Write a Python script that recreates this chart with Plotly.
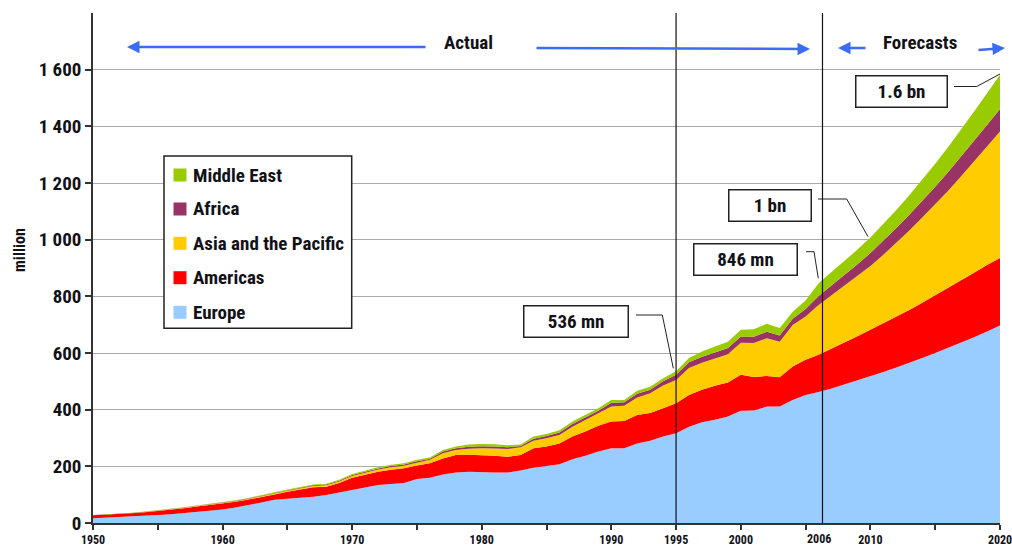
import plotly.graph_objects as go

# ---------------- data (million international tourist arrivals) ----------------
years = list(range(1950, 2021))

europe = [17, 19, 20, 22, 25, 28, 31, 35, 39, 43,
          48, 55, 63, 72, 82, 86, 88, 93, 99, 108,
          118, 126, 134, 138, 141, 155, 160, 171, 178, 181,
          179, 178, 178, 185, 195, 201, 207, 225, 237, 252,
          264, 264, 281, 290, 305, 317, 340, 356, 364, 376,
          396, 397, 411, 411, 434, 452, 462, 475, 489, 503,
          517, 533, 549, 565, 582, 600, 618, 636, 656, 676,
          697]
americas = [10, 10, 12, 12, 13, 14, 16, 17, 19, 20,
            20, 20, 20, 19, 19, 24, 30, 33, 29, 33,
            42, 45, 47, 50, 52, 48, 51, 57, 62, 60,
            61, 59, 56, 55, 69, 69, 74, 80, 86, 91,
            94, 96, 100, 98, 100, 106, 112, 114, 120, 120,
            127, 118, 108, 103, 118, 124, 132, 140, 148, 156,
            165, 172, 180, 187, 195, 203, 211, 219, 227, 235,
            238]
asia_pacific = [0.5, 0.6, 0.7, 0.8, 0.9, 1.0, 1.2, 1.4, 1.6, 1.8,
                2.0, 2.2, 2.5, 2.8, 3.2, 3.6, 4.0, 4.5, 5.0, 5.5,
                6.2, 7, 8, 9, 9.5, 10, 12, 18, 18, 21,
                24, 26, 27, 27, 26, 29, 30, 35, 41, 44,
                53, 54, 62, 70, 80, 82, 95, 96, 96, 100,
                113, 120, 133, 126, 147, 153, 175, 188, 200, 212,
                225, 242, 260, 280, 301, 321, 344, 369, 393, 418,
                447]
africa = [0.5, 0.6, 0.7, 0.7, 0.8, 0.9, 1.0, 1.0, 1.1, 1.2,
          1.3, 1.4, 1.5, 1.7, 1.9, 2.1, 2.4, 2.5, 2.6, 3.0,
          3.2, 3.4, 3.6, 3.8, 4.0, 5, 4, 6, 6, 7,
          7, 7, 6, 5, 7, 8, 8, 9, 9, 9,
          13, 12, 13, 12, 15, 18, 20, 21, 22, 22,
          22, 22, 23, 22, 22, 26, 32, 35, 38, 42,
          46, 49, 52, 56, 59, 63, 66, 69, 73, 76,
          79]
middle_east = [0.2, 0.3, 0.4, 0.5, 0.6, 0.7, 0.8, 0.9, 1.0, 1.2,
               1.3, 1.4, 1.6, 1.8, 2.0, 2.3, 2.6, 2.8, 3.0, 3.5,
               3.8, 4, 4.2, 4.5, 4.5, 5, 4, 6, 6, 8,
               8, 8, 7, 5, 8, 7, 8, 9, 8, 9,
               10, 8, 11, 11, 11, 13, 15, 18, 21, 22,
               24, 27, 28, 26, 25, 30, 45, 47, 50, 52,
               55, 59, 64, 69, 75, 81, 88, 95, 103, 112,
               121]

region_names = ["Europe", "Americas", "Asia and the Pacific", "Africa", "Middle East"]
region_values = [europe, americas, asia_pacific, africa, middle_east]
region_colors = ["#99CCFF", "#FF0000", "#FFCC00", "#993366", "#99CC00"]

y_tickvals = [0, 200, 400, 600, 800, 1000, 1200, 1400, 1600]
y_ticktext = ["0", "200", "400", "600", "800", "1 000", "1 200", "1 400", "1 600"]
x_tickvals = list(range(1950, 2021, 5))
x_labelled = {1950: "1950", 1960: "1960", 1970: "1970", 1980: "1980", 1990: "1990",
              1995: "1995", 2000: "2000", 2010: "2010", 2020: "2020"}
x_ticktext = [x_labelled.get(v, "") for v in x_tickvals]
extra_label_year = 2006
marker_years = [1995, 2006.3]

# ---------------- layout helpers (pixel -> paper) ----------------
W, H = 1012, 546
L, R, T, B = 93, 12, 13, 23
PW, PH = W - L - R, H - T - B


def px(x):
    return (x - L) / PW


def py(y):
    return (H - B - y) / PH


FONT = "Roboto Condensed, Liberation Sans, sans-serif"
TXT = "#111118"
BLUE = "#3A6CF4"


def f(size):
    return dict(family=FONT, size=size, color=TXT, weight=700)


fig = go.Figure()
for name, vals, col in zip(region_names, region_values, region_colors):
    fig.add_trace(go.Scatter(
        x=years, y=vals, name=name, mode="lines", stackgroup="one",
        line=dict(width=0, color=col), fillcolor=col, showlegend=False,
    ))

shapes = []
annotations = []

# vertical markers
for yr in marker_years:
    shapes.append(dict(type="line", xref="x", yref="paper", x0=yr, x1=yr, y0=0, y1=1,
                       line=dict(color="#111111", width=1.2), layer="above"))

# legend box
shapes.append(dict(type="rect", xref="paper", yref="paper",
                   x0=px(164), x1=px(351.7), y0=py(328.3), y1=py(156),
                   line=dict(color="#222222", width=1.5), fillcolor="white", layer="above"))
leg_y = [312.3, 277.7, 243.3, 209, 175]
for name, col, yc in zip(region_names, region_colors, leg_y):
    shapes.append(dict(type="rect", xref="paper", yref="paper",
                       x0=px(173.5), x1=px(186.5), y0=py(yc + 6.5), y1=py(yc - 6.5),
                       line=dict(width=0), fillcolor=col, layer="above"))
    annotations.append(dict(text=name, xref="paper", yref="paper", x=px(191), y=py(yc),
                            xanchor="left", yanchor="middle", showarrow=False, font=f(19)))

# callout boxes
boxes = [("536 mn", 522.7, 629, 305, 337.7),
         ("846 mn", 693, 798, 242.7, 275.7),
         ("1 bn", 727.7, 811.7, 189.3, 222.3),
         ("1.6 bn", 855, 948, 75, 107.7)]
for text, x0, x1, y0, y1 in boxes:
    annotations.append(dict(text=text, xref="paper", yref="paper",
                            x=px((x0 + x1) / 2), y=py((y0 + y1) / 2),
                            xanchor="center", yanchor="middle", showarrow=False,
                            width=x1 - x0 - 3, height=y1 - y0 - 3, borderpad=0,
                            bgcolor="white", bordercolor="#222222", borderwidth=1.5,
                            font=f(19)))

leaders = [[(636, 315), (662.3, 315), (673.3, 368.3)],
           [(806, 251.7), (814, 251.7), (818.3, 278.3)],
           [(818, 199), (846.7, 199), (868, 236.7)],
           [(954, 86.5), (976.7, 86.5), (1000, 74)]]
for pts in leaders:
    path = "M " + " L ".join(f"{px(a):.5f},{py(b):.5f}" for a, b in pts)
    shapes.append(dict(type="path", xref="paper", yref="paper", path=path,
                       line=dict(color="#222222", width=1), layer="above"))

# top arrows and texts
arrows = [((127, 47), (427, 47)),
          ((810, 49), (535, 48)),
          ((838, 48), (867, 48)),
          ((1005, 48), (977, 50))]
for (hx, hy), (tx, ty) in arrows:
    annotations.append(dict(text="", xref="paper", yref="paper", x=px(hx), y=py(hy),
                            ax=tx - hx, ay=ty - hy, showarrow=True, arrowhead=2,
                            arrowsize=1, arrowwidth=2.5, arrowcolor=BLUE))
for text, xc in [("Actual", 468), ("Forecasts", 920)]:
    annotations.append(dict(text=text, xref="paper", yref="paper", x=px(xc), y=py(42),
                            xanchor="center", yanchor="middle", showarrow=False, font=f(19)))

# y-axis title
annotations.append(dict(text="million", xref="paper", yref="paper", x=px(19), y=py(250),
                        xanchor="center", yanchor="middle", textangle=-90, showarrow=False,
                        font=f(16)))

# extra x label (2006)
annotations.append(dict(text=str(extra_label_year), xref="x", yref="paper", x=extra_label_year,
                        y=0, yanchor="top", xanchor="center", yshift=-7, showarrow=False,
                        font=f(12)))

fig.update_layout(
    width=W, height=H,
    margin=dict(l=L, r=R, t=T, b=B, pad=0),
    paper_bgcolor="white", plot_bgcolor="white",
    showlegend=False,
    shapes=shapes, annotations=annotations,
    xaxis=dict(range=[1950, 2020], tickmode="array", tickvals=x_tickvals, ticktext=x_ticktext,
               automargin=False, ticklabeloverflow="allow",
               showgrid=False, zeroline=False, showline=True, linecolor="#333333", linewidth=1.5,
               ticks="outside", ticklen=5, tickwidth=1.5, tickcolor="#333333",
               tickfont=f(12)),
    yaxis=dict(range=[0, 1800], tickmode="array", tickvals=y_tickvals, ticktext=y_ticktext,
               automargin=False,
               showgrid=True, gridcolor="#AAAAAA", gridwidth=1, zeroline=False,
               showline=True, linecolor="#333333", linewidth=1.5,
               ticks="outside", ticklen=6, tickwidth=1.5, tickcolor="#333333",
               tickfont=f(19)),
)

fig.write_html("out.html")
